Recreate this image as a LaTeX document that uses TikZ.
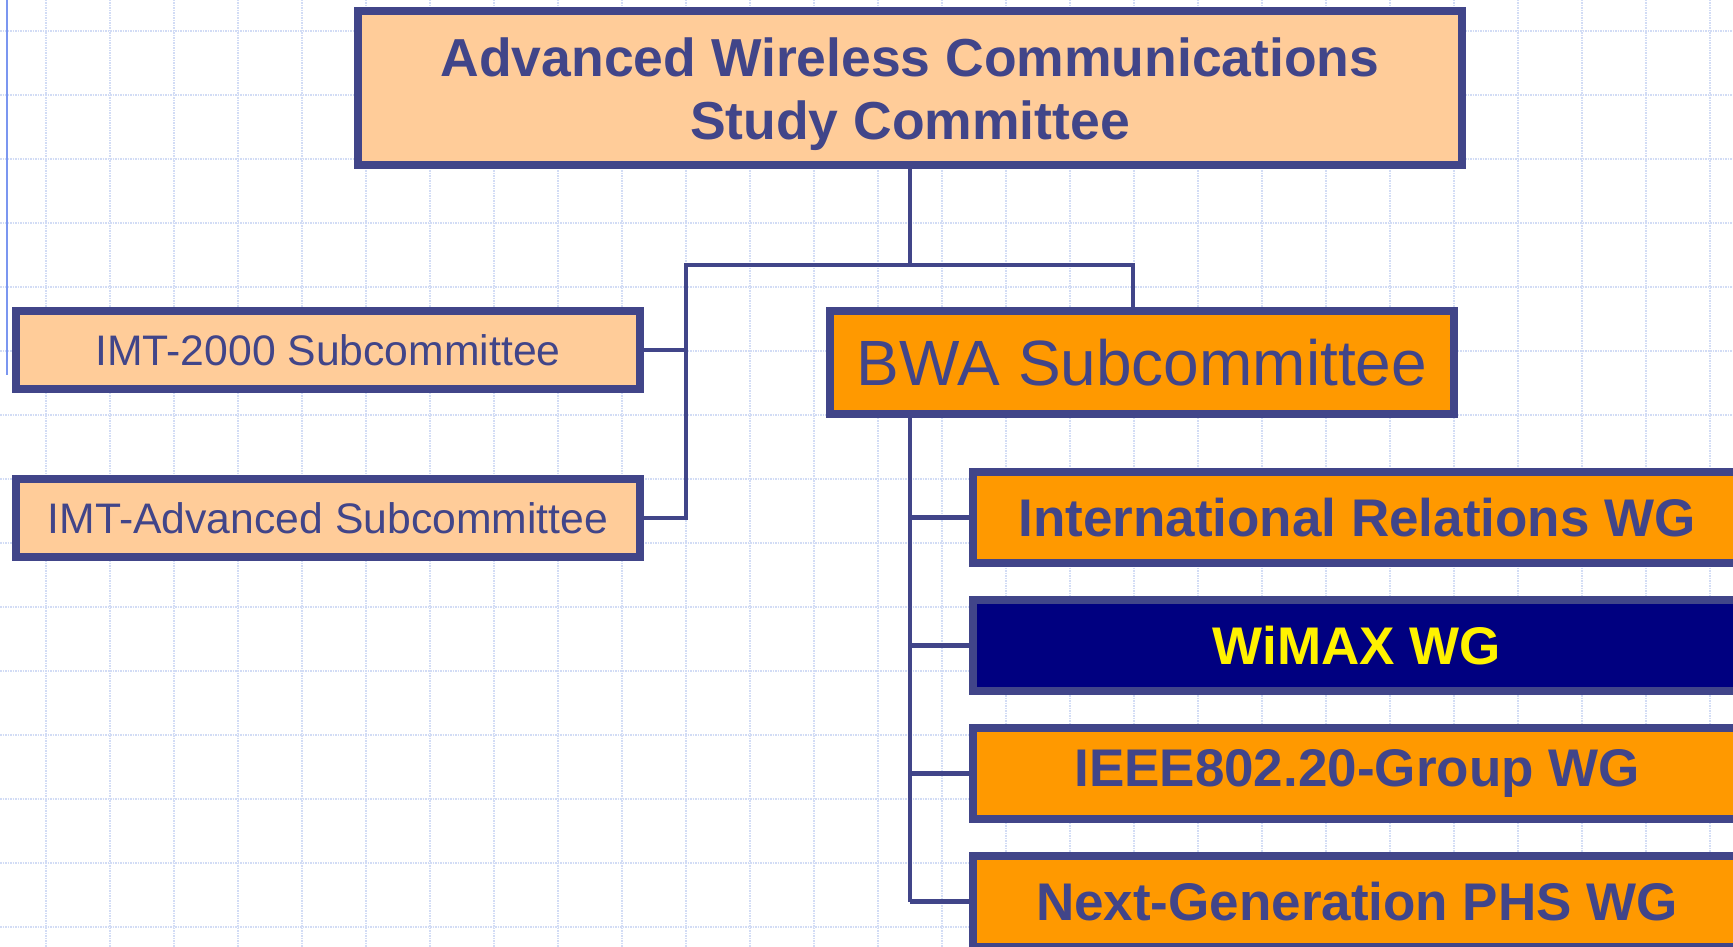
\documentclass[tikz,border=0pt]{standalone}
\usepackage{fontspec}
\setmainfont{Liberation Sans}
\usepackage{xcolor}
\definecolor{frame}{HTML}{414589}
\definecolor{peach}{HTML}{FFCC99}
\definecolor{amber}{HTML}{FF9900}
\definecolor{deepNavy}{HTML}{000080}
\definecolor{gridLine}{HTML}{D2DCF5}
\definecolor{marginLine}{HTML}{7B96F0}
\usepackage{tikz}
\usetikzlibrary{positioning}

\begin{document}
\begin{tikzpicture}[x=1pt, y=-1pt,
                box/.style={rectangle, draw=frame, line width=8pt, text=frame, align=center, inner sep=0pt},
                committee/.style={box, fill=peach, minimum width=1104pt, minimum height=154pt, font=\fontsize{53.5}{63}\selectfont\bfseries},
                sub/.style={box, fill=peach, minimum width=624pt, minimum height=78pt, font=\fontsize{42.7}{50}\selectfont},
                bwa/.style={box, fill=amber, minimum width=624pt, minimum height=103pt, font=\fontsize{64}{76}\selectfont},
                wg/.style={box, fill=amber, minimum width=768pt, minimum height=91pt, font=\fontsize{53}{63}\selectfont\bfseries},
                link/.style={draw=frame, line width=4.5pt},
                grid_line/.style={draw=gridLine, line width=2.2pt, dash pattern=on 1.5pt off 1pt}
            ]
            \useasboundingbox (0,0) rectangle (1733,947);
            \fill [white] (0,0) rectangle (1733,947);

            % background grid
            \foreach \gx in {46,110,...,1710}
                \draw [grid_line] (\gx,0) -- (\gx,947);
            \foreach \gy in {31,95,...,927}
                \draw [grid_line] (0,\gy) -- (1733,\gy);
            \draw [marginLine, line width=1.5pt] (7,0) -- (7,375);

            \node (awc) at (910,88) [committee] {\rule{0pt}{51pt}Advanced Wireless Communications \\ Study Committee};

            \node (imt2000) at (328,350) [sub] {IMT-2000 Subcommittee};
            \node (imtadv) at (328,518) [sub] {IMT-Advanced Subcommittee};
            \node (bwa) at (1142,362.5) [bwa] {BWA Subcommittee};

            \node (ir) at (1357,517.5) [wg] {International Relations WG};
            \node (wimax) [wg, fill=deepNavy, text=yellow, below=29pt of ir] {WiMAX WG};
            \node (ieee) [wg, below=29pt of wimax] {IEEE802.20-Group WG};
            \node (phs) [wg, below=29pt of ieee] {Next-Generation PHS WG};

            \coordinate (lbar) at (686,265);
            \coordinate (rbar) at (1133,265);

            \draw [link] (awc.south) -- (awc.south |- lbar);
            \draw [link] (imtadv.east) -| (lbar) -- (rbar) -- (rbar |- bwa.north);
            \draw [link] (imt2000.east) -- (imt2000.east -| lbar);

            \draw [link] (bwa.south -| awc.south) -- (phs.west -| awc.south);
            \foreach \wg in {ir, wimax, ieee, phs}
                \draw [link] (\wg.west -| awc.south) -- (\wg.west);
        \end{tikzpicture}
\end{document}
